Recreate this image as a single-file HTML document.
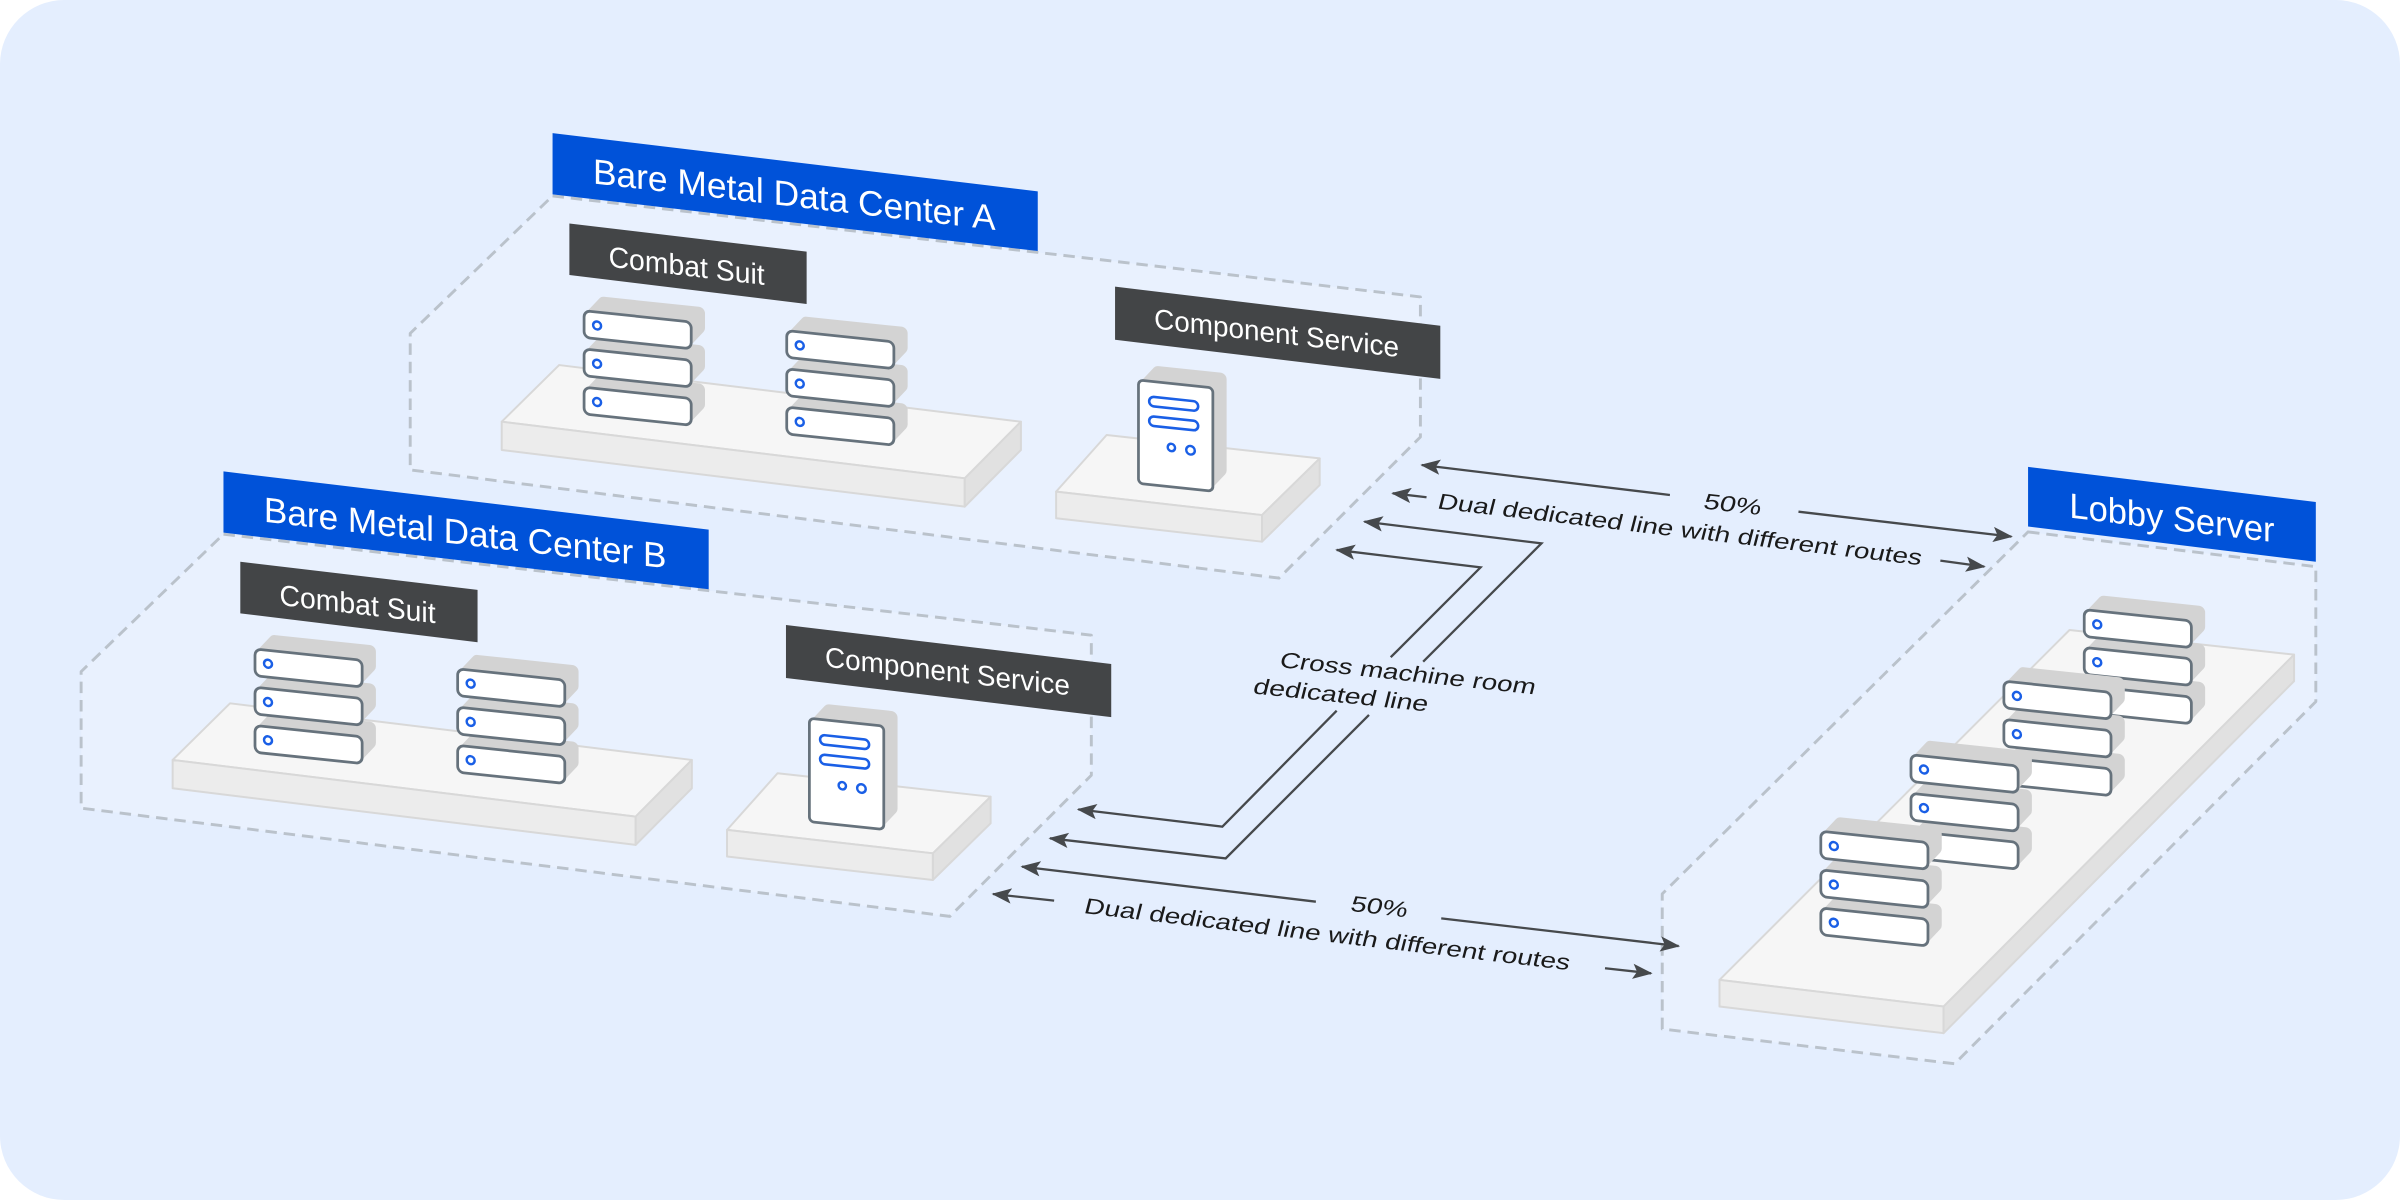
<!DOCTYPE html>
<html>
<head>
<meta charset="utf-8">
<style>
  html,body{margin:0;padding:0;background:#ffffff;}
  svg{display:block;}
  text{font-family:"Liberation Sans", Arial, sans-serif;}
</style>
</head>
<body>
<svg xmlns="http://www.w3.org/2000/svg" width="2400" height="1200" viewBox="0 0 1568 784">
  <defs>
    <g id="unit">
      <g transform="skewY(6)">
        <path d="M4,4 L13,-6.45 L75,-6.45 L75,3.05 L66,13.5 L4,13.5 Z" fill="#d3d3d3" stroke="#d3d3d3" stroke-width="8" stroke-linejoin="round"/>
        <rect x="0" y="0" width="70" height="17.5" rx="4" fill="#ffffff" stroke="#66727c" stroke-width="1.8"/>
        <circle cx="8.5" cy="8.75" r="2.6" fill="#ffffff" stroke="#1a5fe6" stroke-width="1.6"/>
      </g>
    </g>
    <g id="tower">
      <g transform="skewY(6)">
        <path d="M4,4 L13,-6.45 L53.6,-6.45 L53.6,53.05 L44.6,63.5 L4,63.5 Z" fill="#d3d3d3" stroke="#d3d3d3" stroke-width="8" stroke-linejoin="round"/>
        <rect x="0" y="0" width="48.6" height="67.5" rx="3" fill="#ffffff" stroke="#66727c" stroke-width="1.8"/>
        <rect x="7" y="10" width="32" height="6.2" rx="3.1" fill="#ffffff" stroke="#1a5fe6" stroke-width="1.7"/>
        <rect x="7" y="22.8" width="32" height="6.2" rx="3.1" fill="#ffffff" stroke="#1a5fe6" stroke-width="1.7"/>
        <circle cx="21.5" cy="41.8" r="2.4" fill="#ffffff" stroke="#1a5fe6" stroke-width="1.6"/>
        <circle cx="34" cy="42.3" r="2.8" fill="#ffffff" stroke="#1a5fe6" stroke-width="1.6"/>
      </g>
    </g>
    <marker id="ah" viewBox="0 0 13 10" refX="12" refY="5" markerWidth="13" markerHeight="10" markerUnits="userSpaceOnUse" orient="auto">
      <path d="M0,0 L13,5 L0,10 L2.8,5 Z" fill="#46494c"/>
    </marker>
  </defs>

  <!-- background -->
  <rect x="0" y="0" width="1568" height="784" fill="#ffffff"/>
  <rect x="0" y="0" width="1568" height="784" rx="42" ry="42" fill="#E4EEFE"/>

  <!-- ===== Data Center A ===== -->
  <g id="dcA">
    <polygon points="361,128 928,194 928,285.5 835.6,377.7 268,307 268,217.8" fill="#E9F1FE" stroke="#BAC2CB" stroke-width="1.9" stroke-dasharray="7.5 4.5" stroke-linejoin="round"/>
    <polygon points="365.3,238.5 667,275.5 630.3,312.5 327.8,275.5" fill="#f6f6f6" stroke="#d8d8d8" stroke-width="1.3" stroke-linejoin="round"/>
    <polygon points="327.8,275.5 630.3,312.5 630.3,331 327.8,294" fill="#ececec" stroke="#d8d8d8" stroke-width="1.3" stroke-linejoin="round"/>
    <polygon points="630.3,312.5 667,275.5 667,294 630.3,331" fill="#e1e1e1" stroke="#d8d8d8" stroke-width="1.3" stroke-linejoin="round"/>
    <use href="#unit" x="381.6" y="253"/>
    <use href="#unit" x="381.6" y="228"/>
    <use href="#unit" x="381.6" y="203"/>
    <use href="#unit" x="514" y="266"/>
    <use href="#unit" x="514" y="241"/>
    <use href="#unit" x="514" y="216"/>
    <polygon points="723,284.2 862.2,299.5 824.5,336.5 690,321.2" fill="#f6f6f6" stroke="#d8d8d8" stroke-width="1.3" stroke-linejoin="round"/>
    <polygon points="690,321.2 824.5,336.5 824.5,353.9 690,338.6" fill="#ececec" stroke="#d8d8d8" stroke-width="1.3" stroke-linejoin="round"/>
    <polygon points="824.5,336.5 862.2,299.5 862.2,316.9 824.5,353.9" fill="#e1e1e1" stroke="#d8d8d8" stroke-width="1.3" stroke-linejoin="round"/>
    <use href="#tower" x="743.8" y="248.3"/>
    <polygon points="361,87 678,125 678,164 361,127" fill="#0052D9"/>
    <text transform="translate(387.4,119.8) skewY(6.6)" x="0" y="0" font-size="23" fill="#ffffff" textLength="263" lengthAdjust="spacingAndGlyphs">Bare Metal Data Center A</text>
    <polygon points="372,146 527,164.4 527,198.6 372,179.7" fill="#434547"/>
    <text transform="translate(397.6,174.2) skewY(6.7)" x="0" y="0" font-size="19" fill="#ffffff" textLength="102" lengthAdjust="spacingAndGlyphs">Combat Suit</text>
    <polygon points="728.5,187.3 941,212.8 941,247.5 728.5,222" fill="#434547"/>
    <text transform="translate(754,214.5) skewY(6.7)" x="0" y="0" font-size="18.5" fill="#ffffff" textLength="160" lengthAdjust="spacingAndGlyphs">Component Service</text>
  </g>

  <!-- ===== Data Center B ===== -->
  <g transform="translate(-215,221)">
    <polygon points="361,128 928,194 928,285.5 835.6,377.7 268,307 268,217.8" fill="#E9F1FE" stroke="#BAC2CB" stroke-width="1.9" stroke-dasharray="7.5 4.5" stroke-linejoin="round"/>
    <polygon points="365.3,238.5 667,275.5 630.3,312.5 327.8,275.5" fill="#f6f6f6" stroke="#d8d8d8" stroke-width="1.3" stroke-linejoin="round"/>
    <polygon points="327.8,275.5 630.3,312.5 630.3,331 327.8,294" fill="#ececec" stroke="#d8d8d8" stroke-width="1.3" stroke-linejoin="round"/>
    <polygon points="630.3,312.5 667,275.5 667,294 630.3,331" fill="#e1e1e1" stroke="#d8d8d8" stroke-width="1.3" stroke-linejoin="round"/>
    <use href="#unit" x="381.6" y="253"/>
    <use href="#unit" x="381.6" y="228"/>
    <use href="#unit" x="381.6" y="203"/>
    <use href="#unit" x="514" y="266"/>
    <use href="#unit" x="514" y="241"/>
    <use href="#unit" x="514" y="216"/>
    <polygon points="723,284.2 862.2,299.5 824.5,336.5 690,321.2" fill="#f6f6f6" stroke="#d8d8d8" stroke-width="1.3" stroke-linejoin="round"/>
    <polygon points="690,321.2 824.5,336.5 824.5,353.9 690,338.6" fill="#ececec" stroke="#d8d8d8" stroke-width="1.3" stroke-linejoin="round"/>
    <polygon points="824.5,336.5 862.2,299.5 862.2,316.9 824.5,353.9" fill="#e1e1e1" stroke="#d8d8d8" stroke-width="1.3" stroke-linejoin="round"/>
    <use href="#tower" x="743.8" y="248.3"/>
    <polygon points="361,87 678,125 678,164 361,127" fill="#0052D9"/>
    <text transform="translate(387.4,119.8) skewY(6.6)" x="0" y="0" font-size="23" fill="#ffffff" textLength="263" lengthAdjust="spacingAndGlyphs">Bare Metal Data Center B</text>
    <polygon points="372,146 527,164.4 527,198.6 372,179.7" fill="#434547"/>
    <text transform="translate(397.6,174.2) skewY(6.7)" x="0" y="0" font-size="19" fill="#ffffff" textLength="102" lengthAdjust="spacingAndGlyphs">Combat Suit</text>
    <polygon points="728.5,187.3 941,212.8 941,247.5 728.5,222" fill="#434547"/>
    <text transform="translate(754,214.5) skewY(6.7)" x="0" y="0" font-size="18.5" fill="#ffffff" textLength="160" lengthAdjust="spacingAndGlyphs">Component Service</text>
  </g>

  <!-- ===== Lobby Server ===== -->
  <g>
    <polygon points="1325,347.5 1513,370.2 1513,458.4 1277,695 1086,672.3 1086,584" fill="#E9F1FE" stroke="#BAC2CB" stroke-width="1.9" stroke-dasharray="7.5 4.5" stroke-linejoin="round"/>
    <polygon points="1352.1,411.6 1498.8,427.7 1269.8,657.6 1123.4,640.2" fill="#f6f6f6" stroke="#d8d8d8" stroke-width="1.3" stroke-linejoin="round"/>
    <polygon points="1123.4,640.2 1269.8,657.6 1269.8,675 1123.4,657.6" fill="#ececec" stroke="#d8d8d8" stroke-width="1.3" stroke-linejoin="round"/>
    <polygon points="1269.8,657.6 1498.8,427.7 1498.8,445 1269.8,675" fill="#e1e1e1" stroke="#d8d8d8" stroke-width="1.3" stroke-linejoin="round"/>
    <use href="#unit" x="1361.7" y="448"/>
    <use href="#unit" x="1361.7" y="423"/>
    <use href="#unit" x="1361.7" y="398.3"/>
    <use href="#unit" x="1309.2" y="495"/>
    <use href="#unit" x="1309.2" y="470"/>
    <use href="#unit" x="1309.2" y="445"/>
    <use href="#unit" x="1248.5" y="543"/>
    <use href="#unit" x="1248.5" y="518.3"/>
    <use href="#unit" x="1248.5" y="493.1"/>
    <use href="#unit" x="1189.6" y="593.2"/>
    <use href="#unit" x="1189.6" y="568.3"/>
    <use href="#unit" x="1189.6" y="543.1"/>
    <polygon points="1325,305 1513,328 1513,367 1325,344" fill="#0052D9"/>
    <text transform="translate(1352,338.1) skewY(6.9)" x="0" y="0" font-size="23" fill="#ffffff" textLength="134" lengthAdjust="spacingAndGlyphs">Lobby Server</text>
  </g>

  <!-- ===== Connectors ===== -->
  <g fill="none" stroke="#46494c" stroke-width="1.5" stroke-linejoin="miter">
    <path d="M1091,323.4 L928.9,303.8" marker-end="url(#ah)"/>
    <path d="M1175,334.3 L1314.1,350.6" marker-end="url(#ah)"/>
    <path d="M932,324.9 L909.9,322.3" marker-end="url(#ah)"/>
    <path d="M1267.7,366.3 L1296.4,370.2" marker-end="url(#ah)"/>
    <path d="M929.8,432.3 L1007.1,355 L891.4,340.8" marker-end="url(#ah)"/>
    <path d="M908.6,429.4 L967.3,370.7 L873.3,359.3" marker-end="url(#ah)"/>
    <path d="M873.3,464.3 L798.6,540.1 L704.5,528.8" marker-end="url(#ah)"/>
    <path d="M894.4,467.1 L800.8,560.8 L686,547.7" marker-end="url(#ah)"/>
    <path d="M859.7,589.1 L667.7,566.2" marker-end="url(#ah)"/>
    <path d="M941.6,600 L1096.7,618.1" marker-end="url(#ah)"/>
    <path d="M688.7,588.4 L648.8,584.1" marker-end="url(#ah)"/>
    <path d="M1048.6,632.6 L1078.7,635.9" marker-end="url(#ah)"/>
  </g>

  <!-- connector labels -->
  <g fill="#1a1a1a" font-size="14.5">
    <text transform="translate(1112.2,332.1) skewY(6.7) skewX(-14)" x="0" y="0" textLength="37.5" lengthAdjust="spacingAndGlyphs">50%</text>
    <text transform="translate(938.5,332.1) skewY(6.7) skewX(-14)" x="0" y="0" textLength="316" lengthAdjust="spacingAndGlyphs">Dual dedicated line with different routes</text>
    <text transform="translate(835.3,435.8) skewY(6.1) skewX(-14)" x="0" y="0" textLength="167" lengthAdjust="spacingAndGlyphs">Cross machine room</text>
    <text transform="translate(818,453) skewY(5.9) skewX(-14)" x="0" y="0" textLength="114" lengthAdjust="spacingAndGlyphs">dedicated line</text>
    <text transform="translate(881.6,595) skewY(6.7) skewX(-14)" x="0" y="0" textLength="37" lengthAdjust="spacingAndGlyphs">50%</text>
    <text transform="translate(707.6,596.5) skewY(6.7) skewX(-14)" x="0" y="0" textLength="317" lengthAdjust="spacingAndGlyphs">Dual dedicated line with different routes</text>
  </g>
</svg>
</body>
</html>
